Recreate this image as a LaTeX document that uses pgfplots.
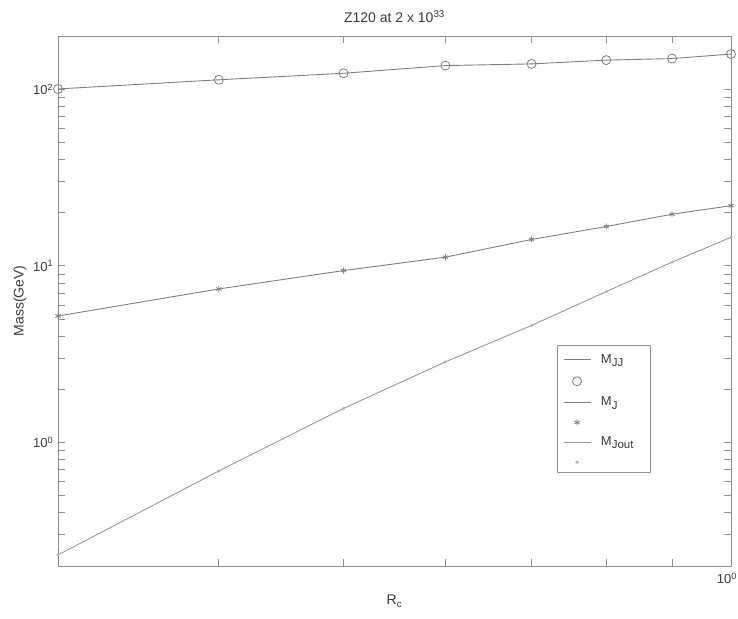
\documentclass[border=0pt]{standalone}
\usepackage{fontspec}
\setmainfont{Liberation Sans}
\usepackage{pgfplots}
\pgfplotsset{compat=1.18}
\definecolor{axgray}{HTML}{8E8E8E}
\definecolor{lngray}{HTML}{7E7E7E}
\definecolor{txtgray}{HTML}{3A3A3A}
\newcommand{\sub}[1]{\raisebox{-0.45ex}{\fontsize{11.5}{13}\selectfont #1}}
\pgfplotsset{
  lineleg/.style={legend image code/.code={\draw[##1] (0pt,0pt) -- (27pt,0pt);}},
  markleg/.style={legend image code/.code={\path (0pt,0pt) (27pt,0pt); \draw[##1] plot coordinates {(13.5pt,0pt)};}},
}
\begin{document}
\fontsize{14}{17}\selectfont
\begin{tikzpicture}
\path[use as bounding box] (0pt,0pt) rectangle (738pt,618pt);
\begin{axis}[
  at={(58pt,52pt)}, anchor=south west,
  width=673pt, height=530pt, scale only axis,
  xmode=log, ymode=log,
  xmin=0.3, xmax=1, ymin=0.2, ymax=200,
  clip=false,
  axis line style={axgray, line width=0.9pt},
  every tick/.style={axgray, line width=0.8pt},
  tick align=inside,
  major tick length=7pt, minor tick length=7pt,
  xtick={1}, xticklabels={10\textsuperscript{0}},
  minor xtick={0.4,0.5,0.6,0.7,0.8,0.9},
  ytick={1,10,100}, yticklabels={10\textsuperscript{0},10\textsuperscript{1},10\textsuperscript{2}},
  minor ytick={0.3,0.4,0.5,0.6,0.7,0.8,0.9,2,3,4,5,6,7,8,9,20,30,40,50,60,70,80,90},
  ticklabel style={font=\fontsize{13}{15}\selectfont, text=txtgray},
  xticklabel style={yshift=-2pt, xshift=-4pt},
  title={Z120 at 2 x 10\textsuperscript{33}},
  title style={font=\fontsize{14}{17}\selectfont, text=txtgray, yshift=2pt},
  xlabel={R\textsubscript{c}},
  ylabel={Mass(GeV)},
  label style={font=\fontsize{14}{17}\selectfont, text=txtgray},
  xlabel style={yshift=-2pt},
  ylabel style={yshift=-3pt},
  legend style={at={(0.741,0.417)}, anchor=north west, draw=axgray, line width=0.8pt,
    font=\fontsize{13}{15}\selectfont, text=txtgray, row sep=9.3pt,
    inner xsep=6pt, inner ysep=7pt,
    /tikz/every odd column/.append style={column sep=8pt}},
  legend cell align=left,
]
\addplot[lngray, line width=0.9pt, lineleg] table {
0.3 100.3
0.4 113
0.5 123
0.6 136
0.7 139
0.8 146
0.9 149
1.0 158
};
\addlegendentry{M\sub{JJ}}
\addplot[lngray, only marks, mark=o, mark size=4.5pt, mark options={line width=0.8pt}, markleg] table {
0.3 100.3
0.4 113
0.5 123
0.6 136
0.7 139
0.8 146
0.9 149
1.0 158
};
\addlegendentry{\mbox{}}
\addplot[lngray, line width=0.9pt, lineleg] table {
0.3 5.2
0.4 7.4
0.5 9.4
0.6 11.2
0.7 14.1
0.8 16.7
0.9 19.6
1.0 21.9
};
\addlegendentry{M\sub{J}}
\addplot[lngray, only marks, mark=asterisk, mark size=3pt, mark options={line width=0.8pt}, markleg] table {
0.3 5.2
0.4 7.4
0.5 9.4
0.6 11.2
0.7 14.1
0.8 16.7
0.9 19.6
1.0 21.9
};
\addlegendentry{\mbox{}}
\addplot[lngray!80, line width=0.9pt, lineleg] table {
0.3 0.231
0.4 0.69
0.5 1.56
0.6 2.86
0.7 4.6
0.8 7.15
0.9 10.5
1.0 14.5
};
\addlegendentry{M\sub{Jout}\hspace*{9pt}}
\addplot[lngray!60, only marks, mark=*, mark size=1.3pt, markleg] table {
0.3 0.231
0.4 0.69
0.5 1.56
0.6 2.86
0.7 4.6
0.8 7.15
0.9 10.5
1.0 14.5
};
\addlegendentry{\mbox{}}
\end{axis}
\end{tikzpicture}
\end{document}
